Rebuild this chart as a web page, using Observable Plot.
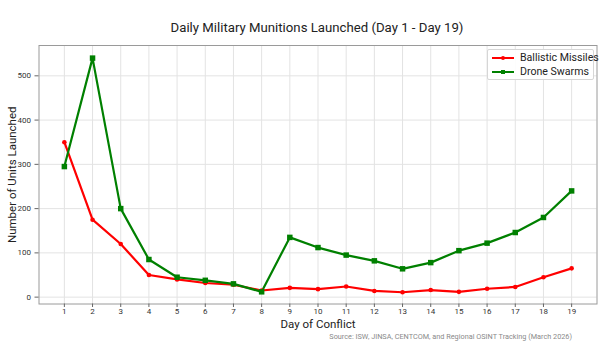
<!DOCTYPE html>
<html>
<head>
<meta charset="utf-8">
<script src="https://cdn.jsdelivr.net/npm/d3@7"></script>
<script src="https://cdn.jsdelivr.net/npm/@observablehq/plot@0.6"></script>
<style>
  html, body { margin: 0; padding: 0; background: white; }
  #wrap { position: relative; width: 602px; height: 344px; font-family: Roboto, sans-serif; color: #222; }
  #title { position: absolute; left: 38px; width: 558px; top: 19px; text-align: center; font-size: 13.2px; line-height: 18px; }
  #chart { position: absolute; left: 0; top: 40px; }
  #legend { position: absolute; left: 487px; top: 49px; width: 105px; height: 29px; border: 1px solid #d6d6d6; border-radius: 2px; background: rgba(255,255,255,0.9); font-size: 10.6px; }
  .item { position: absolute; left: 3px; height: 14px; line-height: 14px; white-space: nowrap; color: #222; }
  .item svg { position: absolute; left: 0; top: 0; }
  .item span { position: absolute; left: 29px; top: 0; }
  #source { position: absolute; right: 30px; top: 332px; font-size: 7.3px; color: #8a8a8a; white-space: nowrap; }
</style>
</head>
<body>
<div id="wrap">
  <div id="title"></div>
  <div id="chart"></div>
  <div id="legend"></div>
  <div id="source"></div>
</div>
<script>
const titleText = "Daily Military Munitions Launched (Day 1 - Day 19)";
const xLabel = "Day of Conflict";
const yLabel = "Number of Units Launched";
const sourceText = "Source: ISW, JINSA, CENTCOM, and Regional OSINT Tracking (March 2026)";
const seriesNames = ["Ballistic Missiles", "Drone Swarms"];
const seriesColors = ["#ff0000", "#008000"];
const days = [1,2,3,4,5,6,7,8,9,10,11,12,13,14,15,16,17,18,19];
const ballistic = [350,175,120,50,40,32,28,15,21,18,24,14,11,16,12,19,23,45,65];
const drones = [295,540,200,85,45,38,30,12,135,112,95,82,64,78,105,122,146,180,240];
const yTicks = [0,100,200,300,400,500];

const rows = [];
days.forEach((d, i) => {
  rows.push({day: d, value: ballistic[i], series: seriesNames[0]});
  rows.push({day: d, value: drones[i], series: seriesNames[1]});
});

document.getElementById("title").textContent = titleText;
document.getElementById("source").textContent = sourceText;

const chart = Plot.plot({
  width: 602,
  height: 304,
  marginTop: 5,
  marginBottom: 40.5,
  marginLeft: 38.5,
  marginRight: 5.5,
  style: {fontFamily: "Roboto, sans-serif", fontSize: "8px", color: "#333", background: "white", overflow: "visible"},
  x: {domain: [0.1, 19.9]},
  y: {domain: [-15.5, 568.5]},
  color: {domain: seriesNames, range: seriesColors},
  marks: [
    Plot.gridX(days, {stroke: "#e3e3e3", strokeOpacity: 1}),
    Plot.gridY(yTicks, {stroke: "#e3e3e3", strokeOpacity: 1}),
    Plot.frame({stroke: "#9a9a9a"}),
    Plot.axisX(days, {tickSize: 3.5, tickPadding: 1, label: null, stroke: "#666", fill: "#333", tickFormat: d => String(d)}),
    Plot.axisY(yTicks, {tickSize: 4, tickPadding: 4, label: null, stroke: "#666", fill: "#333"}),
    Plot.text([xLabel], {frameAnchor: "bottom", dy: 20, fontSize: 11.5, fill: "#222", lineAnchor: "middle", textAnchor: "middle"}),
    Plot.text([yLabel], {frameAnchor: "left", dx: -26.5, rotate: -90, fontSize: 11.5, fill: "#222", textAnchor: "middle", lineAnchor: "middle"}),
    Plot.line(rows, {x: "day", y: "value", stroke: "series", strokeWidth: 2.2}),
    Plot.dot(rows.filter(r => r.series === seriesNames[0]), {x: "day", y: "value", fill: "series", r: 2.3, symbol: "circle"}),
    Plot.dot(rows.filter(r => r.series === seriesNames[1]), {x: "day", y: "value", fill: "series", r: 3.1, symbol: "square"})
  ]
});
document.getElementById("chart").appendChild(chart);

const legend = document.getElementById("legend");
seriesNames.forEach((name, i) => {
  const item = document.createElement("div");
  item.className = "item";
  item.style.top = (1 + i * 14) + "px";
  const marker = i === 0
    ? `<circle cx="12" cy="7" r="2" fill="${seriesColors[i]}"/>`
    : `<rect x="10" y="5" width="4" height="4" fill="${seriesColors[i]}"/>`;
  item.innerHTML = `<svg width="24" height="14"><line x1="1" x2="23" y1="7" y2="7" stroke="${seriesColors[i]}" stroke-width="2"/>${marker}</svg><span></span>`;
  item.querySelector("span").textContent = name;
  legend.appendChild(item);
});
</script>
</body>
</html>
